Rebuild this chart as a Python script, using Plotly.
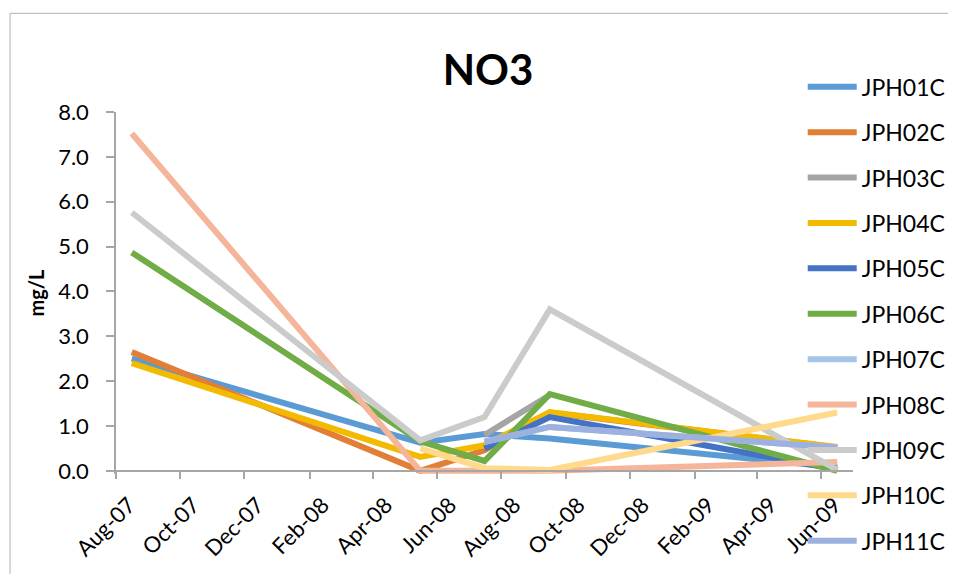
import plotly.graph_objects as go

dates = ["2007-08-16", "2008-05-16", "2008-07-16", "2008-09-16", "2009-06-16"]

series_names = ["JPH01C", "JPH02C", "JPH03C", "JPH04C", "JPH05C", "JPH06C",
                "JPH07C", "JPH08C", "JPH09C", "JPH10C", "JPH11C"]

JPH01C = [2.50, 0.63, 0.82, 0.72, 0.08]
JPH02C = [2.65, 0.00, 0.46, 1.30, 0.52]
JPH03C = [None, None, 0.80, 1.69, None]
JPH04C = [2.40, 0.31, 0.57, 1.31, 0.53]
JPH05C = [None, None, 0.50, 1.20, 0.03]
JPH06C = [4.87, 0.66, 0.22, 1.71, 0.00]
JPH07C = [None, None, 0.64, 0.98, 0.52]
JPH08C = [7.52, 0.00, 0.00, 0.00, 0.20]
JPH09C = [5.76, 0.68, 1.20, 3.60, 0.02]
JPH10C = [None, 0.50, 0.06, 0.02, 1.30]
JPH11C = [None, None, 0.65, 0.98, 0.52]

values = [JPH01C, JPH02C, JPH03C, JPH04C, JPH05C, JPH06C,
          JPH07C, JPH08C, JPH09C, JPH10C, JPH11C]

colors = ["#5B9BD5", "#E07F35", "#A5A5A5", "#F2BA00", "#4472C4", "#70AD47",
          "#A4C5E8", "#F4B59A", "#CBCBCB", "#FFD98C", "#9DB1DF"]

y_ticks = [0, 1, 2, 3, 4, 5, 6, 7, 8]

FONT = "Lato, 'Open Sans', sans-serif"

fig = go.Figure()
for name, vals, col in zip(series_names, values, colors):
    fig.add_trace(go.Scatter(
        x=dates, y=vals, name=name, mode="lines",
        line=dict(color=col, width=6),
        legendgroup=name,
    ))

# page offset (body margin) and geometry in figure pixels
OFF = 8
W, H = 956 - 2 * OFF, 582 - 2 * OFF
L = 116 - OFF
R = W - (853.3 - OFF)
T = 111.7 - OFF
B = H - (473.8 - OFF)
pw = W - L - R
ph = H - T - B
ymin = -0.07


def px_x(p):  # reference pixel -> paper x
    return (p - OFF - L) / pw


def px_y(p):  # reference pixel -> paper y
    return (H - B - (p - OFF)) / ph


fig.update_layout(
    width=W, height=H,
    margin=dict(l=L, r=R, t=T, b=B, autoexpand=False),
    paper_bgcolor="white", plot_bgcolor="white",
    font=dict(family=FONT, color="black", size=22),
    title=dict(text="<b>NO3</b>", x=(488 - OFF) / W, xanchor="center",
               y=1 - (70 - OFF) / H, yanchor="middle", yref="container",
               font=dict(size=42, family=FONT, color="black")),
    showlegend=True,
    legend=dict(x=px_x(803), xanchor="left",
                y=px_y(65), yanchor="top",
                bgcolor="rgba(0,0,0,0)", font=dict(size=23, family=FONT),
                tracegroupgap=12.5, itemwidth=49, maxheight=H),
    xaxis=dict(
        type="date",
        range=["2007-08-01", "2009-07-01"],
        tick0="2007-08-01", dtick="M2", tickformat="%b-%y",
        tickangle=-45,
        showgrid=False, zeroline=False,
        showline=True, linecolor="#A6A6A6", linewidth=1.5,
        ticks="outside", ticklen=7, tickcolor="#A6A6A6", tickwidth=1.5,
        anchor="free", position=(0 - ymin) / (8 - ymin),
        ticklabelshift=13, ticklabelstandoff=5,
        tickfont=dict(size=22, family=FONT),
    ),
    yaxis=dict(
        range=[ymin, 8],
        tickvals=y_ticks, tickformat=".1f",
        showgrid=False, zeroline=False,
        showline=True, linecolor="#A6A6A6", linewidth=1.5,
        ticks="outside", ticklen=8, tickcolor="#A6A6A6", tickwidth=1.5,
        ticklabelstandoff=13,
        tickfont=dict(size=22, family=FONT),
        title=dict(text="<b>mg/L</b>", font=dict(size=20, family=FONT), standoff=8),
    ),
    shapes=[
        dict(type="line", xref="paper", yref="paper",
             x0=px_x(10), x1=px_x(990), y0=px_y(13), y1=px_y(13),
             line=dict(color="#BFBFBF", width=1.2)),
        dict(type="line", xref="paper", yref="paper",
             x0=px_x(10), x1=px_x(10), y0=px_y(13), y1=px_y(620),
             line=dict(color="#BFBFBF", width=1.2)),
    ],
)

fig.write_html("out.html")
